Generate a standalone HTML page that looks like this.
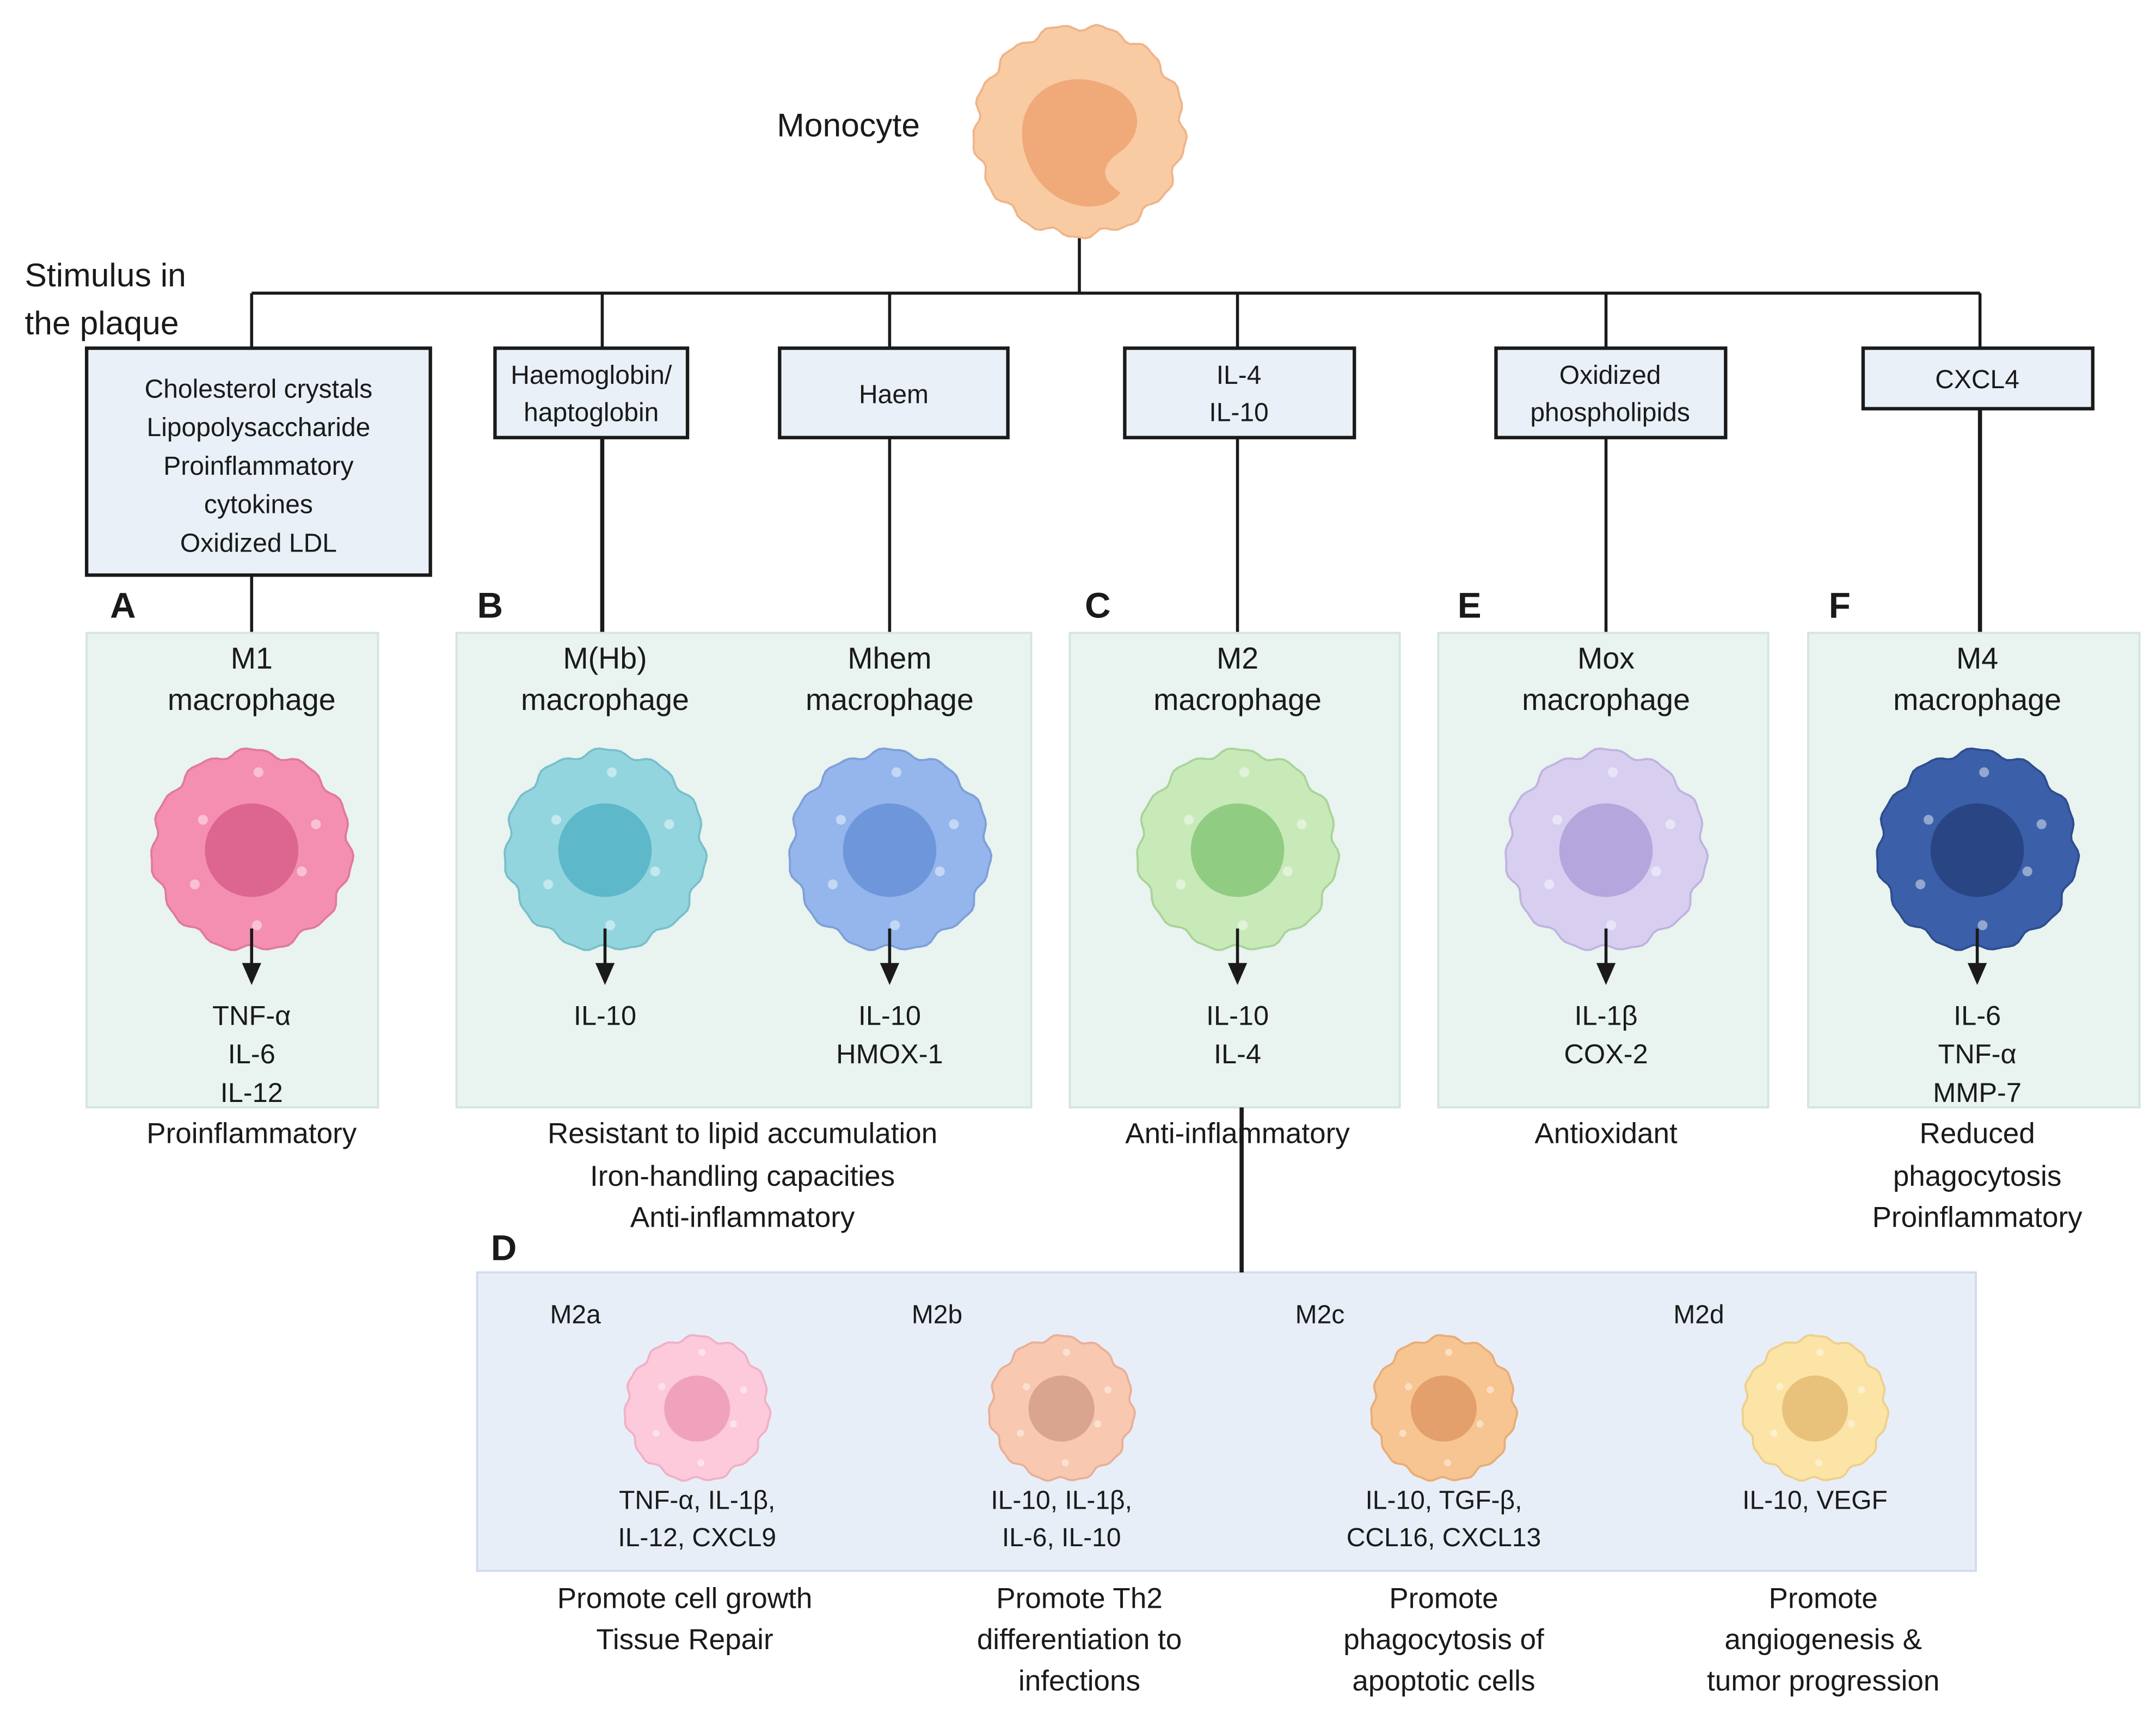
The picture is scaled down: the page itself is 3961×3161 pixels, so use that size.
<!DOCTYPE html>
<html><head><meta charset="utf-8"><style>
html,body{margin:0;padding:0;background:#fff;}
svg{display:block}
text{font-family:"Liberation Sans",sans-serif;fill:#1a1a1a;}
</style></head><body>
<svg id="s" width="3961" height="3161" viewBox="0 0 1568 1251" xmlns="http://www.w3.org/2000/svg">
<rect width="1568" height="1251" fill="#fff"/>
<g stroke="#1a1a1a" stroke-width="2.2" fill="none">
<line x1="785" y1="172" x2="785" y2="213"/>
<line x1="183" y1="213" x2="1440" y2="213"/>
<line x1="183" y1="213" x2="183" y2="253"/>
<line x1="438" y1="213" x2="438" y2="253"/>
<line x1="647" y1="213" x2="647" y2="253"/>
<line x1="900" y1="213" x2="900" y2="253"/>
<line x1="1168" y1="213" x2="1168" y2="253"/>
<line x1="1440" y1="213" x2="1440" y2="253"/>
<line x1="183" y1="418" x2="183" y2="460"/>
<line x1="438" y1="318" x2="438" y2="460" stroke-width="3"/>
<line x1="647" y1="318" x2="647" y2="460"/>
<line x1="900" y1="318" x2="900" y2="460"/>
<line x1="1168" y1="318" x2="1168" y2="460"/>
<line x1="1440" y1="297" x2="1440" y2="460" stroke-width="3"/>
</g>
<g fill="#e9f0f8" stroke="#1a1a1a" stroke-width="2.5">
<rect x="63" y="253" width="250" height="165"/>
<rect x="360" y="253" width="140" height="65"/>
<rect x="567" y="253" width="166" height="65"/>
<rect x="818" y="253" width="167" height="65"/>
<rect x="1088" y="253" width="167" height="65"/>
<rect x="1355" y="253" width="167" height="44"/>
</g>
<g fill="#e9f3ef" stroke="#d3e6de" stroke-width="1.5">
<rect x="63" y="460" width="212" height="345"/>
<rect x="332" y="460" width="418" height="345"/>
<rect x="778" y="460" width="240" height="345"/>
<rect x="1046" y="460" width="240" height="345"/>
<rect x="1315" y="460" width="241" height="345"/>
</g>
<rect x="347" y="925" width="1090" height="217" fill="#e8eef8" stroke="#d0dcec" stroke-width="1.5"/>
<line x1="903" y1="805" x2="903" y2="925" stroke="#1a1a1a" stroke-width="3"/>
<g id="cells"></g>
<g id="arrows" stroke="#1a1a1a" stroke-width="2.2" fill="#1a1a1a"></g>

<g font-size="24" text-anchor="start">
<text x="565" y="99">Monocyte</text>
<text x="18" y="208">Stimulus in</text>
<text x="18" y="243">the plaque</text>
</g>
<g font-size="19" text-anchor="middle">
<text x="188" y="289">Cholesterol crystals</text>
<text x="188" y="317">Lipopolysaccharide</text>
<text x="188" y="345">Proinflammatory</text>
<text x="188" y="373">cytokines</text>
<text x="188" y="401">Oxidized LDL</text>
<text x="430" y="279">Haemoglobin/</text>
<text x="430" y="306">haptoglobin</text>
<text x="650" y="293">Haem</text>
<text x="901" y="279">IL-4</text>
<text x="901" y="306">IL-10</text>
<text x="1171" y="279">Oxidized</text>
<text x="1171" y="306">phospholipids</text>
<text x="1438" y="282">CXCL4</text>
</g>
<g font-size="26" font-weight="bold">
<text x="80" y="449">A</text><text x="347" y="449">B</text><text x="789" y="449">C</text>
<text x="1060" y="449">E</text><text x="1330" y="449">F</text><text x="357" y="916">D</text>
</g>
<g font-size="22" text-anchor="middle">
<text x="183" y="486">M1</text><text x="183" y="516">macrophage</text>
<text x="440" y="486">M(Hb)</text><text x="440" y="516">macrophage</text>
<text x="647" y="486">Mhem</text><text x="647" y="516">macrophage</text>
<text x="900" y="486">M2</text><text x="900" y="516">macrophage</text>
<text x="1168" y="486">Mox</text><text x="1168" y="516">macrophage</text>
<text x="1438" y="486">M4</text><text x="1438" y="516">macrophage</text>
</g>
<g font-size="20" text-anchor="middle">
<text x="183" y="745">TNF-α</text><text x="183" y="773">IL-6</text><text x="183" y="801">IL-12</text>
<text x="440" y="745">IL-10</text>
<text x="647" y="745">IL-10</text><text x="647" y="773">HMOX-1</text>
<text x="900" y="745">IL-10</text><text x="900" y="773">IL-4</text>
<text x="1168" y="745">IL-1β</text><text x="1168" y="773">COX-2</text>
<text x="1438" y="745">IL-6</text><text x="1438" y="773">TNF-α</text><text x="1438" y="801">MMP-7</text>
</g>
<g font-size="21" text-anchor="middle">
<text x="183" y="831">Proinflammatory</text>
<text x="540" y="831">Resistant to lipid accumulation</text>
<text x="540" y="862">Iron-handling capacities</text>
<text x="540" y="892">Anti-inflammatory</text>
<text x="900" y="831">Anti-inflammatory</text>
<text x="1168" y="831">Antioxidant</text>
<text x="1438" y="831">Reduced</text><text x="1438" y="862">phagocytosis</text><text x="1438" y="892">Proinflammatory</text>
</g>
<g font-size="19">
<text x="400" y="962">M2a</text><text x="663" y="962">M2b</text><text x="942" y="962">M2c</text><text x="1217" y="962">M2d</text>
</g>
<g font-size="19" text-anchor="middle">
<text x="507" y="1097">TNF-α, IL-1β,</text><text x="507" y="1124">IL-12, CXCL9</text>
<text x="772" y="1097">IL-10, IL-1β,</text><text x="772" y="1124">IL-6, IL-10</text>
<text x="1050" y="1097">IL-10, TGF-β,</text><text x="1050" y="1124">CCL16, CXCL13</text>
<text x="1320" y="1097">IL-10, VEGF</text>
</g>
<g font-size="21" text-anchor="middle">
<text x="498" y="1169">Promote cell growth</text><text x="498" y="1199">Tissue Repair</text>
<text x="785" y="1169">Promote Th2</text><text x="785" y="1199">differentiation to</text><text x="785" y="1229">infections</text>
<text x="1050" y="1169">Promote</text><text x="1050" y="1199">phagocytosis of</text><text x="1050" y="1229">apoptotic cells</text>
<text x="1326" y="1169">Promote</text><text x="1326" y="1199">angiogenesis &amp;</text><text x="1326" y="1229">tumor progression</text>
</g>
</svg>
<script>
var NS="http://www.w3.org/2000/svg";
function wavy(cx,cy,r,n,a){var d="";for(var i=0;i<=120;i++){var t=i/120*Math.PI*2;var rr=r*(1+a*Math.sin(n*t)+a*0.5*Math.sin(n*2*t+1));d+=(i?"L":"M")+(cx+rr*Math.cos(t)).toFixed(1)+","+(cy+rr*Math.sin(t)).toFixed(1);}return d+"Z";}
function el(tag,at){var e=document.createElementNS(NS,tag);for(var k in at)e.setAttribute(k,at[k]);return e;}
var g=document.getElementById("cells");
function cell(cx,cy,r,fill,edge,nuc,nr){
 g.appendChild(el("path",{d:wavy(cx,cy,r,11,0.03),fill:fill,stroke:edge,"stroke-width":1.5}));
 for(var i=0;i<6;i++){var t=i*1.1+0.4,rr=r*(0.55+0.3*((i*37)%10)/10);g.appendChild(el("circle",{cx:cx+rr*Math.cos(t),cy:cy+rr*Math.sin(t),r:r*0.05,fill:"#fff","fill-opacity":0.45}));}
 g.appendChild(el("circle",{cx:cx,cy:cy,r:nr,fill:nuc}));
}
cell(183,618,72,"#f48fb1","#e07a9c","#dc6690",34);
cell(440,618,72,"#93d5de","#78bfca","#5db9c9",34);
cell(647,618,72,"#94b6ec","#7ea0d8","#6e96db",34);
cell(900,618,72,"#c8eab8","#a9d39a","#90cd82",34);
cell(1168,618,72,"#d8cff0","#bfb3e0","#b3a7de",34);
cell(1438,618,72,"#3b5fa8","#2e4d8f","#294584",34);
cell(507,1024,52,"#fccada","#f0b0c6","#f0a2bd",24);
cell(772,1024,52,"#f8c8b0","#e8b098","#d9a58f",24);
cell(1050,1024,52,"#f7c592","#e8ad78","#e39f6c",24);
cell(1320,1024,52,"#fce4a6","#ecd08c","#e8c27b",24);
g.appendChild(el("path",{d:wavy(785,95,76,13,0.03),fill:"#f9cba2",stroke:"#efb489","stroke-width":1.5}));
g.appendChild(el("path",{d:"M745,110 C735,70 770,50 800,60 C830,68 835,95 815,110 C800,120 800,130 815,140 C800,160 755,150 745,110Z",fill:"#f0a979"}));
var a=document.getElementById("arrows");
[183,440,647,900,1168,1438].forEach(function(x){
 a.appendChild(el("line",{x1:x,y1:675,x2:x,y2:703}));
 a.appendChild(el("polygon",{points:(x-7)+",700 "+(x+7)+",700 "+x+",716","stroke-width":0}));
});
</script>
</body></html>
